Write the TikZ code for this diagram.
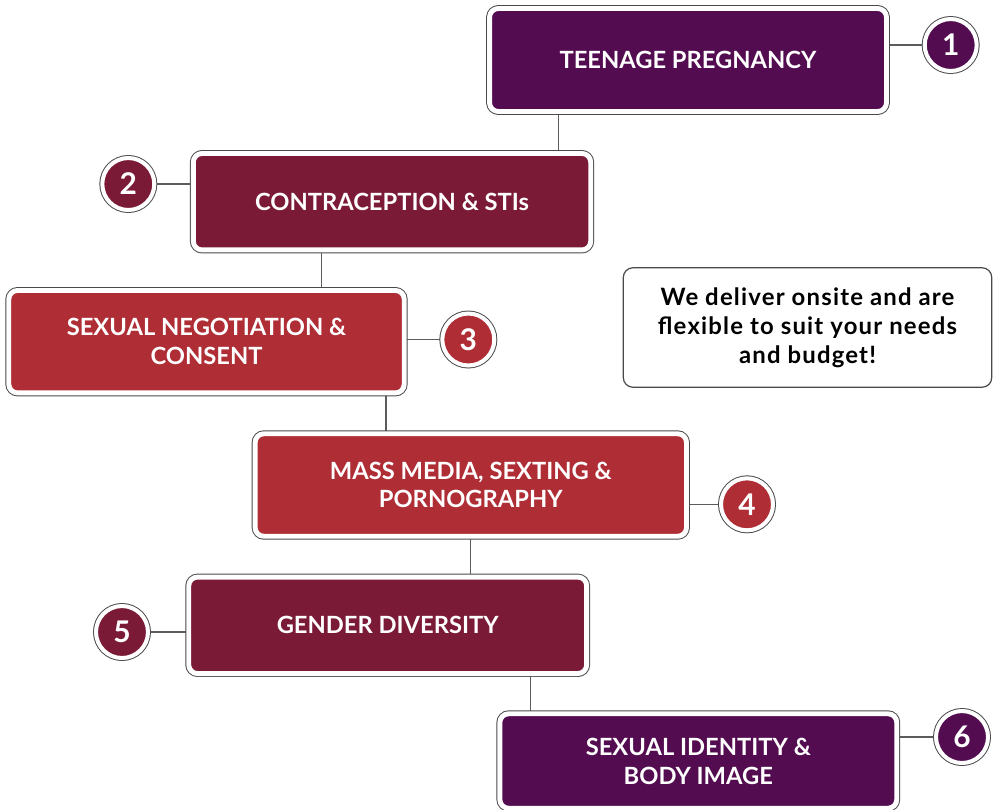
\documentclass[tikz,border=0pt]{standalone}
\usepackage{fontspec}
\setmainfont{Lato}
\newfontfamily\notefont[LetterSpace=5]{Lato}
\usetikzlibrary{backgrounds}
\definecolor{plum}{HTML}{530C50}
\definecolor{wine}{HTML}{7B1A37}
\definecolor{brick}{HTML}{AF2E36}
\definecolor{rim}{HTML}{4A4A4A}
\tikzset{
	topic/.style={rounded corners=5pt, fill=#1, draw=white, line width=2.8pt,
		preaction={draw=rim, line width=3.9pt}, text=white, align=center, inner sep=0pt,
		font=\bfseries\fontsize{13.5}{16.4}\selectfont},
	badge/.style={circle, minimum size=1.04cm, fill=#1, draw=white, line width=2.3pt,
		preaction={draw=rim, line width=3.4pt}, text=white, inner sep=0pt,
		font=\bfseries\fontsize{17}{17}\selectfont},
	link/.style={draw=rim!90, line width=0.75pt}
}

\begin{document}
\begin{tikzpicture}[x=0.02cm, y=-0.02cm]
	\useasboundingbox (0,0) rectangle (996,809);
	% topic boxes
	\node[topic=plum, minimum width=7.94cm, minimum height=2.06cm] (b1) at (688,60) {TEENAGE PREGNANCY};
	\node[topic=wine, minimum width=7.95cm, minimum height=1.93cm] (b2) at (392,201.7) {CONTRACEPTION \& STIs};
	\node[topic=brick, minimum width=7.91cm, minimum height=2.05cm] (b3) at (206.5,341.7) {SEXUAL NEGOTIATION \&\\CONSENT};
	\node[topic=brick, minimum width=8.63cm, minimum height=2.05cm] (b4) at (470.8,485) {MASS MEDIA, SEXTING \&\\PORNOGRAPHY};
	\node[topic=wine, minimum width=7.96cm, minimum height=1.93cm] (b5) at (387.7,625.3) {GENDER DIVERSITY};
	\node[topic=plum, minimum width=7.94cm, minimum height=1.89cm] (b6) at (698.3,761) {SEXUAL IDENTITY \&\\BODY IMAGE};
	% numbers
	\node[badge=plum] (c1) at (950.7,45) {1};
	\node[badge=wine] (c2) at (128.3,184) {2};
	\node[badge=brick] (c3) at (468.3,339.5) {3};
	\node[badge=brick] (c4) at (747,504.3) {4};
	\node[badge=wine] (c5) at (122,632) {5};
	\node[badge=plum] (c6) at (962,737) {6};
	% note
	\node[draw=rim, line width=0.7pt, rounded corners=5.5pt, minimum width=7.37cm, minimum height=2.39cm,
		align=center, font=\notefont\bfseries\fontsize{13.6}{16.4}\selectfont] (note) at (807.5,327.5)
		{We deliver onsite and are\\flexible to suit your needs\\and budget!};
	\coordinate (k1) at (558.3,0);
	\coordinate (k2) at (321.7,0);
	\coordinate (k3) at (386,0);
	\coordinate (k4) at (470.4,0);
	\coordinate (k5) at (530.8,0);
	\begin{scope}[on background layer]
		\draw[link] (b1.south -| k1) -- (b2.north -| k1);
		\draw[link] (b2.south -| k2) -- (b3.north -| k2);
		\draw[link] (b3.south -| k3) -- (b4.north -| k3);
		\draw[link] (b4.south -| k4) -- (b5.north -| k4);
		\draw[link] (b5.south -| k5) -- (b6.north -| k5);
		\draw[link] (c1) -- (b1.east |- c1);
		\draw[link] (c2) -- (b2.west |- c2);
		\draw[link] (c3) -- (b3.east |- c3);
		\draw[link] (c4) -- (b4.east |- c4);
		\draw[link] (c5) -- (b5.west |- c5);
		\draw[link] (c6) -- (b6.east |- c6);
	\end{scope}
\end{tikzpicture}
\end{document}
